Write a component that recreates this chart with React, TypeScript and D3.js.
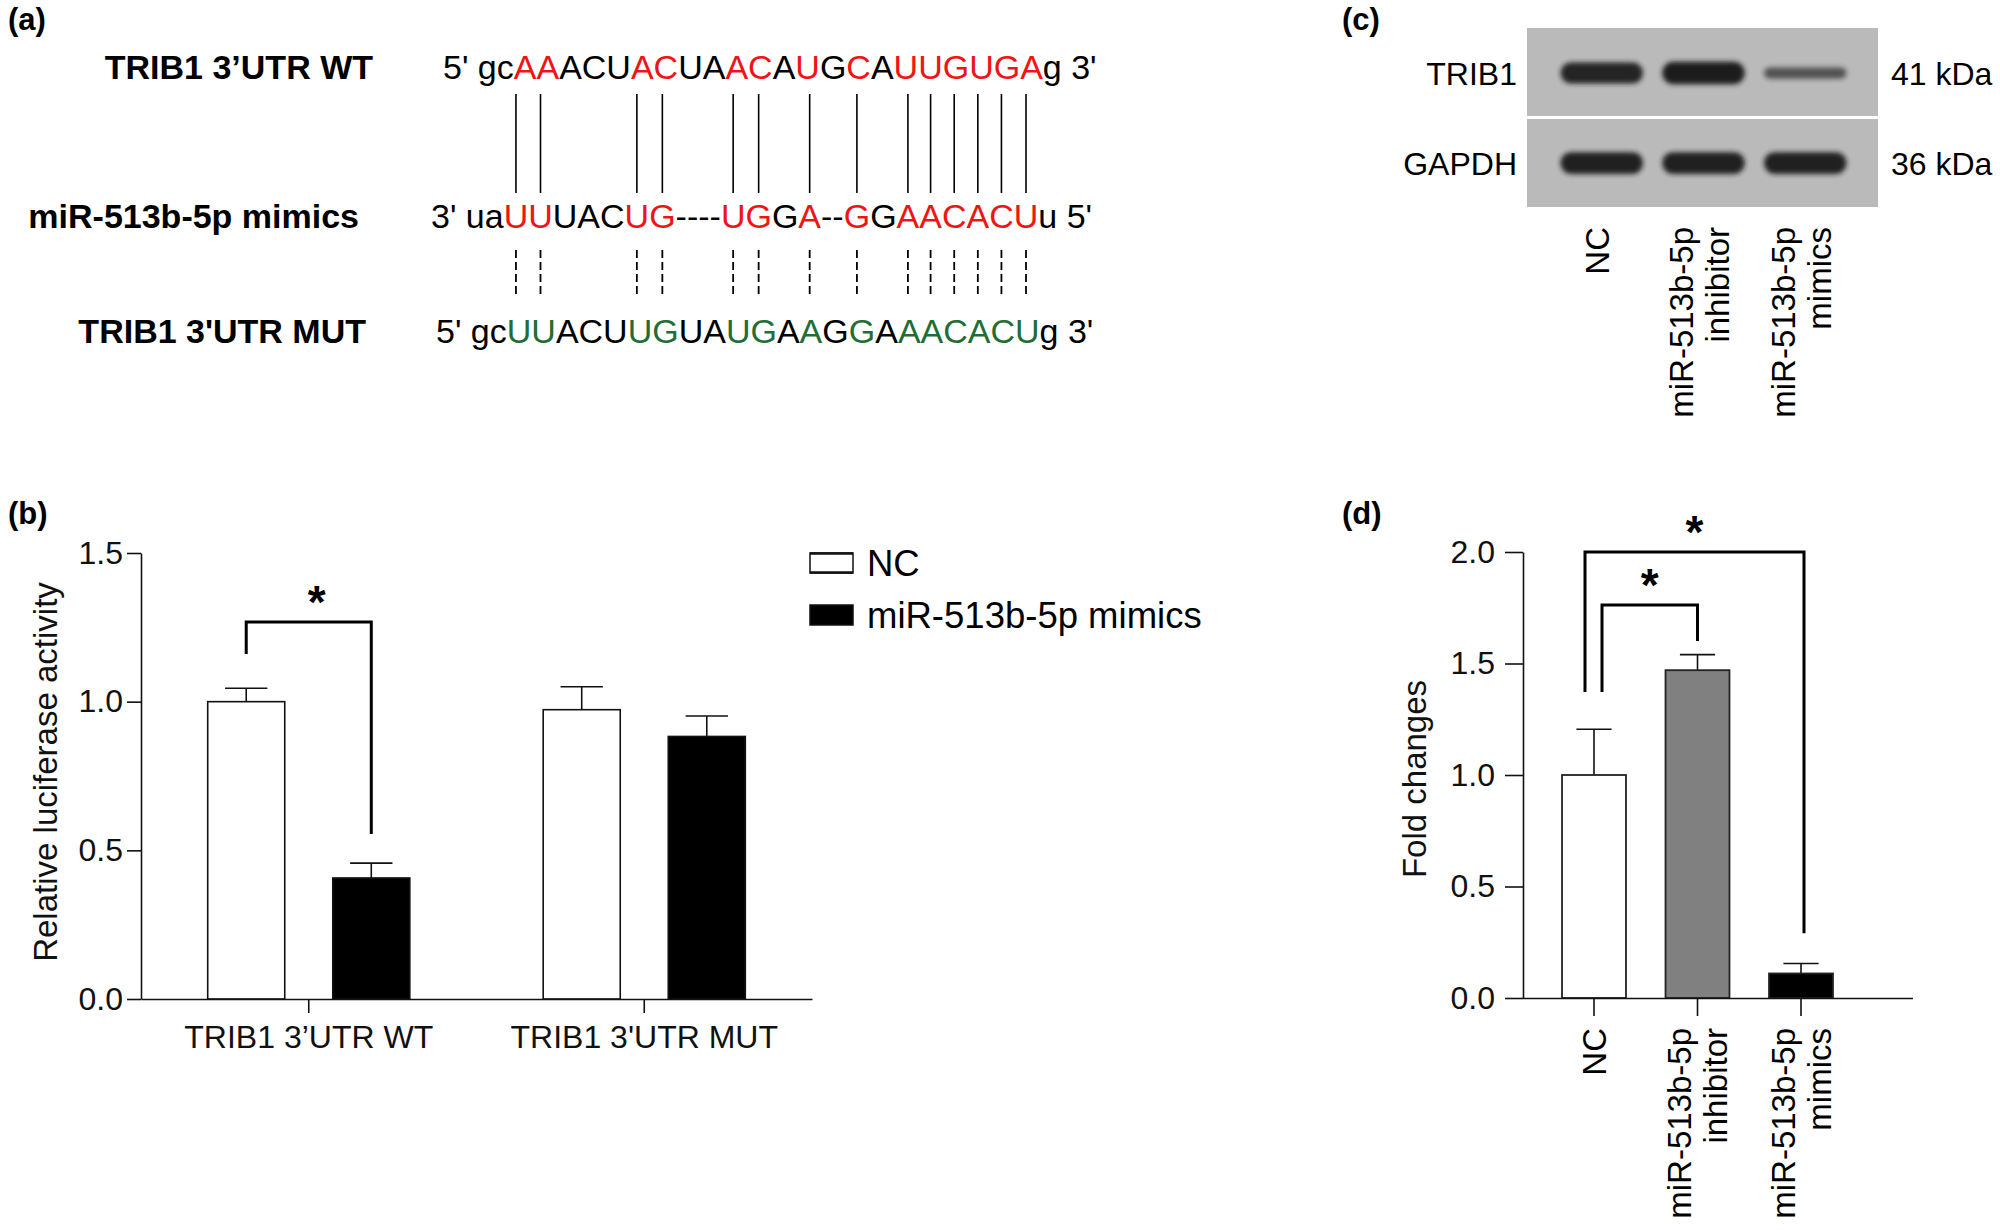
import React, { useRef, useEffect } from "react";
import * as d3 from "d3";

const W = 2000;
const H = 1230;
const FONT = "'Liberation Sans', Arial, Helvetica, sans-serif";
const RED = "#f01414";
const GREEN = "#1f6e35";
const INK = "#111";

// (a) target site alignment: [segment, paired]
const wtSegments: [string, boolean][] = [
  ["5' gc", false], ["AA", true], ["ACU", false], ["AC", true], ["UA", false],
  ["AC", true], ["A", false], ["U", true], ["G", false], ["C", true],
  ["A", false], ["UUGUGA", true], ["g 3'", false],
];
const mimicSegments: [string, boolean][] = [
  ["3' ua", false], ["UU", true], ["UAC", false], ["UG", true], ["----", false],
  ["UG", true], ["G", false], ["A", true], ["--", false], ["G", true],
  ["G", false], ["AACACU", true], ["u 5'", false],
];
const mutSegments: [string, boolean][] = [
  ["5' gc", false], ["UU", true], ["ACU", false], ["UG", true], ["UA", false],
  ["UG", true], ["A", false], ["A", true], ["G", false], ["G", true],
  ["A", false], ["AACACU", true], ["g 3'", false],
];
const seqLabels = ["TRIB1 3’UTR WT", "miR-513b-5p mimics", "TRIB1 3'UTR MUT"];

// (b) luciferase assay
const lucGroups = ["TRIB1 3’UTR WT", "TRIB1 3'UTR MUT"];
const lucSeries = ["NC", "miR-513b-5p mimics"];
const lucNC = [1.0, 0.973];
const lucNCErr = [0.045, 0.077];
const lucMimics = [0.407, 0.883];
const lucMimicsErr = [0.05, 0.069];
const lucTicks = [0, 0.5, 1.0, 1.5];
// bracket: top level, left leg end, right leg end (y values)
const lucBracket = { group: 0, top: 1.268, leftEnd: 1.16, rightEnd: 0.555 };

// (c) western blot
const treatmentLabels = [["NC"], ["miR-513b-5p", "inhibitor"], ["miR-513b-5p", "mimics"]];
const blotProteins = ["TRIB1", "GAPDH"];
const blotWeights = ["41 kDa", "36 kDa"];
const trib1Bands = [1.0, 1.1, 0.35];
const gapdhBands = [1.05, 1.05, 1.05];

// (d) fold changes
const foldGroups = ["NC", "miR-513b-5p inhibitor", "miR-513b-5p mimics"];
const foldValues = [1.0, 1.47, 0.11];
const foldErr = [0.205, 0.07, 0.045];
const foldTicks = [0, 0.5, 1.0, 1.5, 2.0];
const foldColors = ["#ffffff", "#808080", "#000000"];
const foldBrackets = [
  { a: 0, b: 2, top: 2.0, aEnd: 1.372, bEnd: 0.29, shift: -9 },
  { a: 0, b: 1, top: 1.762, aEnd: 1.372, bEnd: 1.601, shift: 8 },
];

type Sel = d3.Selection<SVGGElement, unknown, null, undefined>;

function styleAxis(g: Sel, size: number) {
  g.attr("font-family", FONT).attr("font-size", size);
  g.selectAll("path, line").attr("stroke", INK).attr("stroke-width", 1.6);
  g.selectAll("text").attr("fill", INK);
}

function star(g: Sel, x: number, topY: number) {
  g.append("text")
    .attr("x", x)
    .attr("y", topY - 4)
    .attr("text-anchor", "middle")
    .attr("font-weight", "bold")
    .attr("font-size", 46)
    .text("*");
}

function drawSequences(root: Sel) {
  const g = root.append("g").attr("font-family", FONT).attr("font-size", 34).attr("fill", "#000");
  const rows = [
    { label: seqLabels[0], segs: wtSegments, color: RED, x: 443, labelX: 373, y: 79 },
    { label: seqLabels[1], segs: mimicSegments, color: RED, x: 431, labelX: 359, y: 228 },
    { label: seqLabels[2], segs: mutSegments, color: GREEN, x: 436, labelX: 366, y: 343 },
  ];
  const nodes: SVGTextElement[] = [];
  rows.forEach((r) => {
    g.append("text")
      .attr("x", r.labelX)
      .attr("y", r.y)
      .attr("text-anchor", "end")
      .attr("font-weight", "bold")
      .text(r.label);
    const t = g.append("text").attr("x", r.x).attr("y", r.y);
    r.segs.forEach(([s, p]) => t.append("tspan").attr("fill", p ? r.color : "#000").text(s));
    nodes.push(t.node() as SVGTextElement);
  });

  // paired positions from the mimic row
  const pairIdx: number[] = [];
  let k = 0;
  mimicSegments.forEach(([s, p]) => {
    for (let i = 0; i < s.length; i++) {
      if (p) pairIdx.push(k);
      k++;
    }
  });
  const xs = pairIdx.map((i) => {
    const e = nodes[1].getExtentOfChar(i);
    return e.x + e.width / 2;
  });

  g.selectAll(".solid")
    .data(xs)
    .enter()
    .append("line")
    .attr("x1", (d) => d).attr("x2", (d) => d)
    .attr("y1", 94).attr("y2", 193)
    .attr("stroke", "#000").attr("stroke-width", 1.6);

  g.selectAll(".dash")
    .data(xs)
    .enter()
    .append("line")
    .attr("x1", (d) => d).attr("x2", (d) => d)
    .attr("y1", 250).attr("y2", 294)
    .attr("stroke", "#000").attr("stroke-width", 1.8)
    .attr("stroke-dasharray", "8,4");
}

function drawLuciferase(root: Sel) {
  const g = root.append("g").attr("font-family", FONT);
  const y = d3.scaleLinear().domain([0, 1.5]).range([999, 553]);
  const x0 = d3.scaleBand<string>().domain(lucGroups).range([141, 812]).paddingInner(0.25).paddingOuter(0.125);
  const x1 = d3.scaleBand<string>().domain(lucSeries).range([0, x0.bandwidth()]).paddingInner(0.384).paddingOuter(0.198);

  const series = [
    { key: lucSeries[0], vals: lucNC, errs: lucNCErr, fill: "#fff" },
    { key: lucSeries[1], vals: lucMimics, errs: lucMimicsErr, fill: "#000" },
  ];

  series.forEach((s) => {
    const bw = x1.bandwidth();
    lucGroups.forEach((grp, i) => {
      const bx = (x0(grp) as number) + (x1(s.key) as number);
      const cx = bx + bw / 2;
      const cap = bw * 0.55;
      g.append("line")
        .attr("x1", cx).attr("x2", cx)
        .attr("y1", y(s.vals[i])).attr("y2", y(s.vals[i] + s.errs[i]))
        .attr("stroke", INK).attr("stroke-width", 1.6);
      g.append("line")
        .attr("x1", cx - cap / 2).attr("x2", cx + cap / 2)
        .attr("y1", y(s.vals[i] + s.errs[i])).attr("y2", y(s.vals[i] + s.errs[i]))
        .attr("stroke", INK).attr("stroke-width", 1.6);
      g.append("rect")
        .attr("x", bx).attr("y", y(s.vals[i]))
        .attr("width", bw).attr("height", y(0) - y(s.vals[i]))
        .attr("fill", s.fill).attr("stroke", INK).attr("stroke-width", 1.6);
    });
  });

  const ya = g.append("g").attr("transform", "translate(141,0)")
    .call(d3.axisLeft(y).tickValues(lucTicks).tickFormat(d3.format(".1f")).tickSize(14).tickPadding(4).tickSizeOuter(0));
  styleAxis(ya, 32);
  const xa = g.append("g").attr("transform", "translate(0,999)")
    .call(d3.axisBottom(x0).tickSize(14).tickPadding(12).tickSizeOuter(0));
  styleAxis(xa, 32);

  g.append("text")
    .attr("transform", "translate(45,772) rotate(-90)")
    .attr("text-anchor", "middle").attr("dy", "0.35em")
    .attr("font-size", 33).attr("fill", INK)
    .text("Relative luciferase activity");

  // significance bracket
  const grp = lucGroups[lucBracket.group];
  const xa0 = (x0(grp) as number) + (x1(lucSeries[0]) as number) + x1.bandwidth() / 2;
  const xb0 = (x0(grp) as number) + (x1(lucSeries[1]) as number) + x1.bandwidth() / 2;
  const path = d3.path();
  path.moveTo(xa0, y(lucBracket.leftEnd));
  path.lineTo(xa0, y(lucBracket.top));
  path.lineTo(xb0, y(lucBracket.top));
  path.lineTo(xb0, y(lucBracket.rightEnd));
  g.append("path").attr("d", path.toString()).attr("fill", "none").attr("stroke", "#000").attr("stroke-width", 3);
  star(g, (xa0 + xb0) / 2 + 8, y(lucBracket.top));

  // legend
  const lg = g.append("g").attr("transform", "translate(810,553)");
  lucSeries.forEach((s, i) => {
    const row = lg.append("g").attr("transform", `translate(0,${i * 52})`);
    row.append("rect").attr("width", 43).attr("height", 20)
      .attr("fill", i === 0 ? "#fff" : "#000").attr("stroke", INK).attr("stroke-width", 1.5);
    if (i === 0) {
      row.append("line").attr("x1", 0).attr("x2", 43).attr("y1", 0.5).attr("y2", 0.5).attr("stroke", INK).attr("stroke-width", 2.5);
      row.append("line").attr("x1", 0).attr("x2", 43).attr("y1", 19.5).attr("y2", 19.5).attr("stroke", INK).attr("stroke-width", 2.5);
    }
    row.append("text").attr("x", 57).attr("y", 10).attr("dy", "0.36em")
      .attr("font-size", 36.5).attr("fill", "#000").text(s);
  });
}

function drawBlot(root: Sel) {
  const g = root.append("g").attr("font-family", FONT).attr("font-size", 32).attr("fill", "#000");
  const lanes = treatmentLabels.map((d) => d.join(" "));
  const x = d3.scaleBand<string>().domain(lanes).range([1527, 1880]).paddingInner(0.19).paddingOuter(0.33);
  const strips = [
    { y0: 28, y1: 116, center: 73, bands: trib1Bands },
    { y0: 119, y1: 207, center: 163, bands: gapdhBands },
  ];
  strips.forEach((s, i) => {
    g.append("rect").attr("x", 1527).attr("y", s.y0).attr("width", 351).attr("height", s.y1 - s.y0).attr("fill", "#bababa");
    s.bands.forEach((v, j) => {
      const h = 6 + 15 * v;
      g.append("rect")
        .attr("x", x(lanes[j]) as number)
        .attr("y", s.center - h / 2)
        .attr("width", x.bandwidth())
        .attr("height", h)
        .attr("rx", h / 2)
        .attr("fill", "#1a1a1a")
        .attr("opacity", Math.min(1, 0.5 + 0.45 * v))
        .attr("filter", "url(#blur)");
    });
    g.append("text").attr("x", 1517).attr("y", s.center).attr("dy", "0.36em").attr("text-anchor", "end").text(blotProteins[i]);
    g.append("text").attr("x", 1891).attr("y", s.center).attr("dy", "0.36em").text(blotWeights[i]);
  });
  treatmentLabels.forEach((lines, j) => {
    const cx = (x(lanes[j]) as number) + x.bandwidth() / 2 - 4;
    lines.forEach((t, k) => {
      const lx = cx + (k - (lines.length - 1) / 2) * 36;
      g.append("text")
        .attr("transform", `translate(${lx},227) rotate(-90)`)
        .attr("text-anchor", "end").attr("dy", "0.35em")
        .attr("font-size", 33)
        .text(t);
    });
  });
}

function drawFold(root: Sel) {
  const g = root.append("g").attr("font-family", FONT);
  const y = d3.scaleLinear().domain([0, 2]).range([998, 552]);
  const x = d3.scaleBand<string>().domain(foldGroups).range([1523, 1872]).paddingInner(0.382).paddingOuter(0.377);
  const bw = x.bandwidth();

  foldGroups.forEach((grp, i) => {
    const bx = x(grp) as number;
    const cx = bx + bw / 2;
    const cap = bw * 0.55;
    const top = foldValues[i] + foldErr[i];
    g.append("line").attr("x1", cx).attr("x2", cx).attr("y1", y(foldValues[i])).attr("y2", y(top))
      .attr("stroke", INK).attr("stroke-width", 1.6);
    g.append("line").attr("x1", cx - cap / 2).attr("x2", cx + cap / 2).attr("y1", y(top)).attr("y2", y(top))
      .attr("stroke", INK).attr("stroke-width", 1.6);
    g.append("rect").attr("x", bx).attr("y", y(foldValues[i]))
      .attr("width", bw).attr("height", y(0) - y(foldValues[i]))
      .attr("fill", foldColors[i]).attr("stroke", "#222").attr("stroke-width", 1.8);
  });

  const ya = g.append("g").attr("transform", "translate(1523,0)")
    .call(d3.axisLeft(y).tickValues(foldTicks).tickFormat(d3.format(".1f")).tickSize(18).tickPadding(10).tickSizeOuter(0));
  styleAxis(ya, 32);
  const xa = g.append("g").attr("transform", "translate(0,998)")
    .call(d3.axisBottom(x).tickSize(18).tickFormat(() => ""));
  xa.select(".domain").remove();
  styleAxis(xa, 32);
  g.append("line").attr("x1", 1523).attr("x2", 1913).attr("y1", 998.5).attr("y2", 998.5)
    .attr("stroke", INK).attr("stroke-width", 1.6);

  treatmentLabels.forEach((lines, i) => {
    const cx = (x(foldGroups[i]) as number) + bw / 2;
    lines.forEach((t, k) => {
      const lx = cx + (k - (lines.length - 1) / 2) * 36;
      g.append("text")
        .attr("transform", `translate(${lx},1028) rotate(-90)`)
        .attr("text-anchor", "end").attr("dy", "0.35em")
        .attr("font-size", 33).attr("fill", "#000")
        .text(t);
    });
  });

  g.append("text")
    .attr("transform", "translate(1414,779) rotate(-90)")
    .attr("text-anchor", "middle").attr("dy", "0.35em")
    .attr("font-size", 33).attr("fill", INK)
    .text("Fold changes");

  foldBrackets.forEach((b) => {
    const xa0 = (x(foldGroups[b.a]) as number) + bw / 2 + b.shift;
    const xb0 = (x(foldGroups[b.b]) as number) + bw / 2 + (b.shift < 0 ? 3 : 0);
    const p = d3.path();
    p.moveTo(xa0, y(b.aEnd));
    p.lineTo(xa0, y(b.top));
    p.lineTo(xb0, y(b.top));
    p.lineTo(xb0, y(b.bEnd));
    g.append("path").attr("d", p.toString()).attr("fill", "none").attr("stroke", "#000").attr("stroke-width", 3);
    star(g, (xa0 + xb0) / 2, y(b.top));
  });
}

export default function App() {
  const ref = useRef<SVGSVGElement>(null);

  useEffect(() => {
    const svg = d3.select(ref.current);
    svg.selectAll("*").remove();
    svg.append("rect").attr("width", W).attr("height", H).attr("fill", "#fff");
    svg.append("defs")
      .append("filter").attr("id", "blur")
      .attr("x", "-20%").attr("y", "-80%").attr("width", "140%").attr("height", "260%")
      .append("feGaussianBlur").attr("stdDeviation", 2.8);

    const root = svg.append("g") as unknown as Sel;

    // panel letters
    const letters = [
      { t: "(a)", x: 8, y: 30 },
      { t: "(b)", x: 8, y: 524 },
      { t: "(c)", x: 1342, y: 30 },
      { t: "(d)", x: 1342, y: 524 },
    ];
    root.selectAll(".panel")
      .data(letters)
      .enter()
      .append("text")
      .attr("x", (d) => d.x).attr("y", (d) => d.y)
      .attr("font-family", FONT).attr("font-weight", "bold").attr("font-size", 31)
      .text((d) => d.t);

    drawSequences(root);
    drawLuciferase(root);
    drawBlot(root);
    drawFold(root);
  }, []);

  return (
    <svg
      ref={ref}
      width={W}
      height={H}
      style={{ position: "absolute", left: 0, top: 0, display: "block" }}
    />
  );
}
